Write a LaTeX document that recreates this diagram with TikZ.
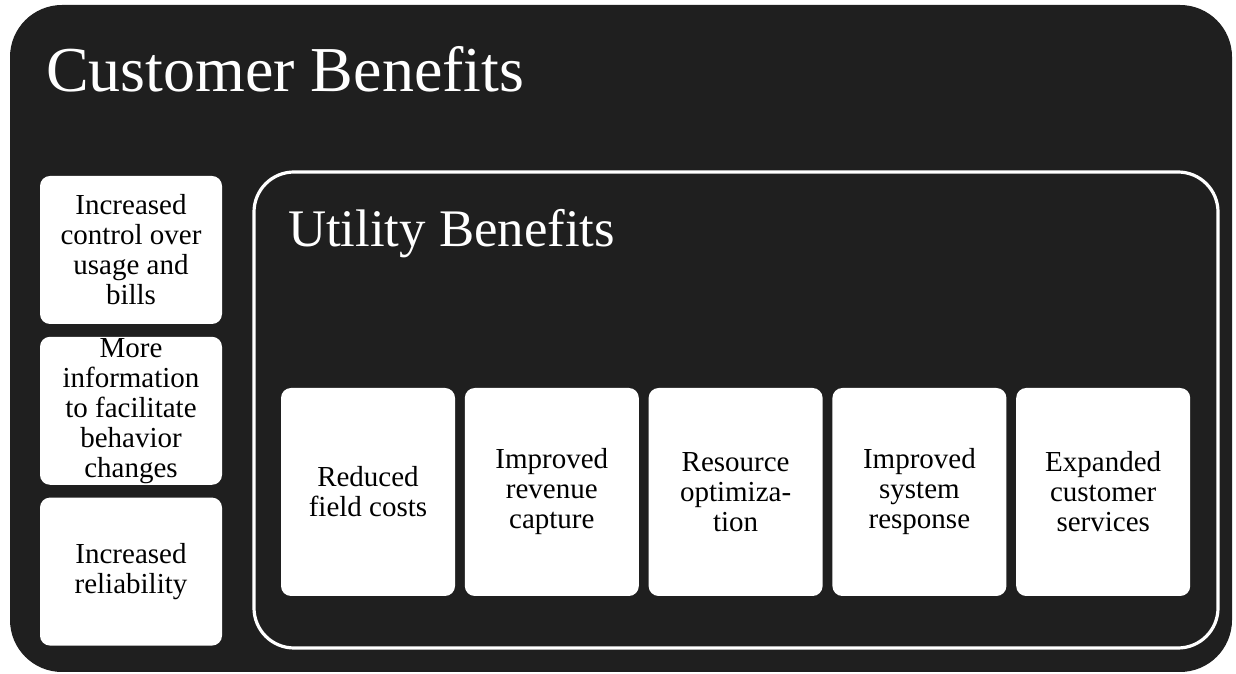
\documentclass[tikz,border=0pt]{standalone}
\usepackage{fontspec}
\setmainfont{Liberation Serif}
\usetikzlibrary{positioning}
\definecolor{panel}{gray}{0.12}

\begin{document}
\begin{tikzpicture}[x=1pt, y=1pt,
  every node/.style={font=\fontsize{14.5}{15}\selectfont},
  benefit/.style={fill=white, rounded corners=5pt, align=center, inner sep=0pt},
  custbox/.style={benefit, minimum width=91pt, minimum height=74pt},
  utilbox/.style={benefit, minimum width=87pt, minimum height=104pt}]
  \useasboundingbox (0,0) rectangle (618,337);

  % Outer panel
  \fill[panel, rounded corners=26pt] (5,1) rectangle (616,334.5);
  \node[anchor=base west, text=white, font=\fontsize{32}{34}\selectfont]
    (custtitle) at (19.5,291) {Customer Benefits};

  % Customer side
  \node[custbox] (control) at (65.5,212) {Increased\\control over\\usage and\\bills};
  \node[custbox, below=6pt of control] (info) {More\\information\\to facilitate\\behavior\\changes};
  \node[custbox, below=6pt of info] (reliab) {Increased\\reliability};

  % Utility panel
  \draw[white, line width=1.6pt, rounded corners=20pt] (127,13) rectangle (609,251);
  \node[anchor=base west, text=white, font=\fontsize{26.4}{28}\selectfont]
    (utiltitle) at (140.5,213.5) {Utility Benefits};

  \node[utilbox] (field) at (184,91) {Reduced\\field costs};
  \node[utilbox, right=4.5pt of field] (revenue) {Improved\\revenue\\capture};
  \node[utilbox, right=4.5pt of revenue] (resource) {Resource\\optimiza-\\tion};
  \node[utilbox, right=4.5pt of resource] (response) {Improved\\system\\response};
  \node[utilbox, right=4.5pt of response] (services) {Expanded\\customer\\services};
\end{tikzpicture}
\end{document}
